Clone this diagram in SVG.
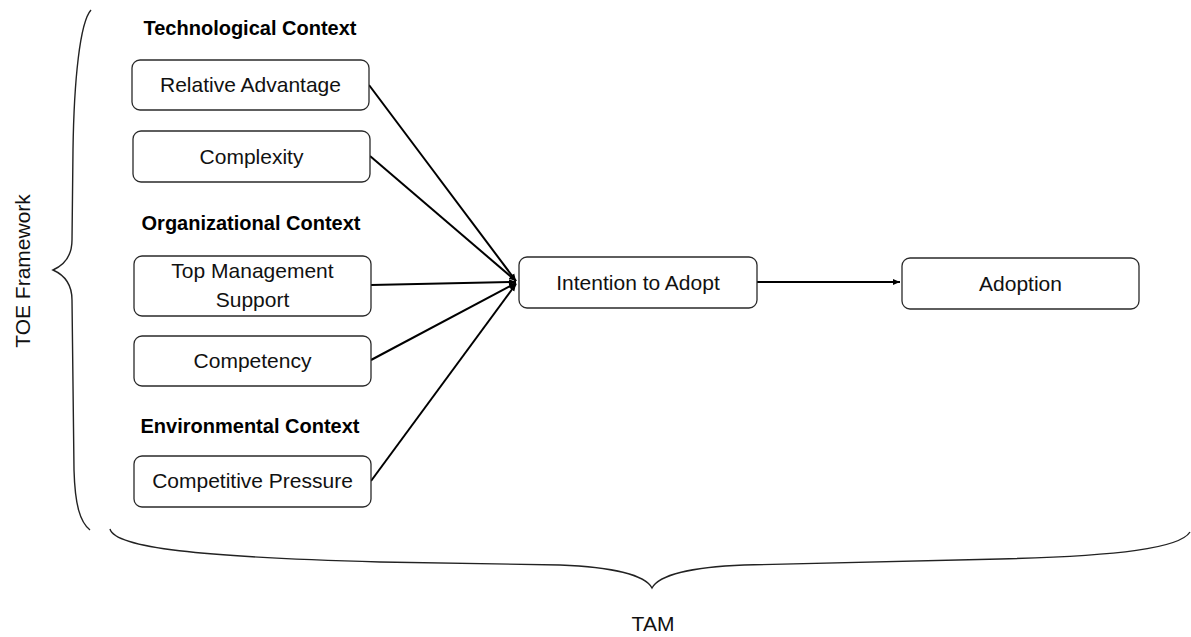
<svg xmlns="http://www.w3.org/2000/svg" width="1191" height="637" viewBox="0 0 1191 637">
<style>
.box{fill:#fff;stroke:#2a2a2a;stroke-width:1.3}
.t{font-family:"Liberation Sans",Arial,sans-serif;font-size:21px;fill:#111;text-anchor:middle}
.h{font-family:"Liberation Sans",Arial,sans-serif;font-size:20px;font-weight:bold;fill:#000;text-anchor:middle}
.c{stroke:#000;stroke-width:2;fill:none}
.br{stroke:#222;stroke-width:1.4;fill:none}
</style>
<defs>
<marker id="ah" markerWidth="8" markerHeight="8" refX="7" refY="4" orient="auto" markerUnits="userSpaceOnUse">
<path d="M0,1 L7,4 L0,7 Z" fill="#000"/>
</marker>
</defs>
<rect width="1191" height="637" fill="#fff"/>
<g id="braces">
<path class="br" d="M91,10 C80,22 74,80 73,150 L72,240 C72,258 62,266 53,270 C62,274 72,282 72,300 L74,470 C75,505 80,522 90,530"/>
<path class="br" d="M110,529 C115,548 200,557 380,562 L560,565 C612,567 645,575 652,588 C659,575 692,567 744,565 L1000,559 C1120,556 1180,548 1190,532"/>
</g>
<g id="labels">
<text class="t" transform="translate(30,271) rotate(-90)">TOE Framework</text>
<text class="t" x="653" y="631">TAM</text>
<text class="h" x="250" y="35">Technological Context</text>
<text class="h" x="251" y="230">Organizational Context</text>
<text class="h" x="250" y="433">Environmental Context</text>
</g>
<g id="connectors">
<line class="c" x1="369" y1="85" x2="516" y2="281" marker-end="url(#ah)"/>
<line class="c" x1="370" y1="156" x2="516" y2="281" marker-end="url(#ah)"/>
<line class="c" x1="371" y1="285" x2="516" y2="282" marker-end="url(#ah)"/>
<line class="c" x1="371" y1="360" x2="516" y2="283" marker-end="url(#ah)"/>
<line class="c" x1="371" y1="481" x2="516" y2="284" marker-end="url(#ah)"/>
<line class="c" x1="757" y1="282" x2="900" y2="282" marker-end="url(#ah)"/>
</g>
<g id="relative-advantage"><rect class="box" x="132" y="60" width="237" height="50" rx="8"/><text class="t" x="250.5" y="92">Relative Advantage</text></g>
<g id="complexity"><rect class="box" x="133" y="131" width="237" height="51" rx="8"/><text class="t" x="251.5" y="164">Complexity</text></g>
<g id="top-management-support"><rect class="box" x="134" y="256" width="237" height="60" rx="8"/><text class="t" x="252.5" y="278">Top Management</text><text class="t" x="252.5" y="307">Support</text></g>
<g id="competency"><rect class="box" x="134" y="336" width="237" height="50" rx="8"/><text class="t" x="252.5" y="368">Competency</text></g>
<g id="competitive-pressure"><rect class="box" x="134" y="456" width="237" height="51" rx="8"/><text class="t" x="252.5" y="488">Competitive Pressure</text></g>
<g id="intention-to-adopt"><rect class="box" x="519" y="257" width="238" height="51" rx="8"/><text class="t" x="638" y="290">Intention to Adopt</text></g>
<g id="adoption"><rect class="box" x="902" y="258" width="237" height="51" rx="8"/><text class="t" x="1020.5" y="291">Adoption</text></g>
</svg>
